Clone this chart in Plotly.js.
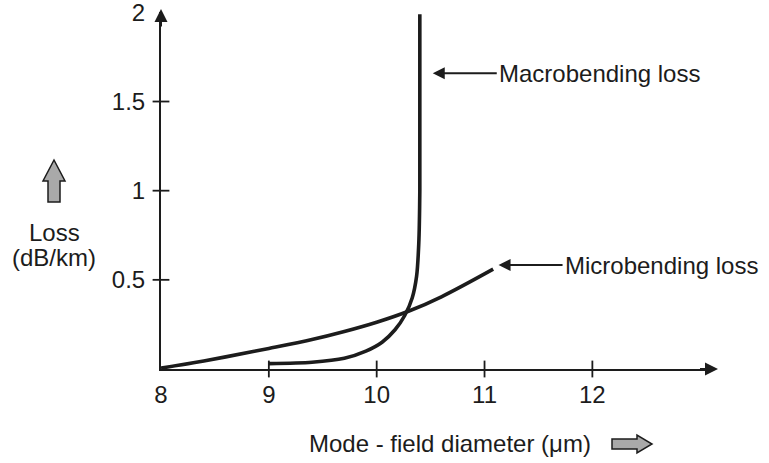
<!DOCTYPE html>
<html>
<head>
<meta charset="utf-8">
<script src="https://cdn.plot.ly/plotly-3.0.1.min.js"></script>
<style>html,body{margin:0;padding:0;background:#fff;}#chart{width:769px;height:463px;}</style>
</head>
<body>
<div id="chart"></div>
<script>
// Data
const microX = [8.0, 8.3, 8.6, 9.0, 9.4, 9.7, 10.0, 10.3, 10.6, 11.08];
const microY = [0.005, 0.035, 0.068, 0.115, 0.165, 0.21, 0.262, 0.325, 0.405, 0.56];
const macroX = [9.0, 9.4, 9.7, 9.9, 10.05, 10.17, 10.26, 10.33, 10.37, 10.39, 10.40, 10.40];
const macroY = [0.03, 0.038, 0.06, 0.1, 0.15, 0.22, 0.3, 0.4, 0.52, 0.7, 1.0, 1.99];
const xTickVals = [8, 9, 10, 11, 12];
const xTickMarks = [9, 10, 11, 12];
const yTickVals = [0.5, 1, 1.5, 2];
const yTickMarks = [0.5, 1, 1.5];
const xTitle = 'Mode - field diameter (\u03bcm)';
const yTitle = ['Loss', '(dB/km)'];
const macroLabel = 'Macrobending loss';
const microLabel = 'Microbending loss';

const ink = '#1c1c1c';
const fontFam = '"Liberation Sans", Arial, Helvetica, sans-serif';
const xr = [8, 13.1], yr = [0, 2.002];

const traces = [
  {x: microX, y: microY, type: 'scatter', mode: 'lines', line: {color: ink, width: 3.6, shape: 'spline', smoothing: 1}, cliponaxis: false, hoverinfo: 'skip'},
  {x: macroX, y: macroY, type: 'scatter', mode: 'lines', line: {color: ink, width: 3.6, shape: 'spline', smoothing: 0.8}, cliponaxis: false, hoverinfo: 'skip'},
  // crossing tick marks on the x axis
  {x: xTickMarks, y: xTickMarks.map(() => 0), type: 'scatter', mode: 'markers', cliponaxis: false, hoverinfo: 'skip',
    marker: {symbol: 'line-ns', size: 12, color: ink, line: {color: ink, width: 1.8}}},
  // crossing tick marks on the y axis
  {x: yTickMarks.map(() => xr[0]), y: yTickMarks, type: 'scatter', mode: 'markers', cliponaxis: false, hoverinfo: 'skip',
    marker: {symbol: 'line-ew', size: 12, color: ink, line: {color: ink, width: 1.8}}}
];

const annFont = {family: fontFam, size: 24, color: ink};
const layout = {
  width: 769, height: 463,
  margin: {l: 161, r: 58, t: 12, b: 94},
  paper_bgcolor: '#fff', plot_bgcolor: '#fff',
  showlegend: false,
  font: {family: fontFam, size: 24, color: ink},
  xaxis: {type: 'linear', range: xr, tickmode: 'array', tickvals: xTickVals, ticks: '', ticklabelstandoff: 3,
    ticklabeloverflow: 'allow',
    showline: true, linewidth: 2, linecolor: ink, showgrid: false, zeroline: false, tickfont: annFont, fixedrange: true},
  yaxis: {type: 'linear', range: yr, tickmode: 'array', tickvals: yTickVals, ticks: '', ticklabelstandoff: 9,
    ticklabeloverflow: 'allow',
    showline: true, linewidth: 2, linecolor: ink, showgrid: false, zeroline: false, tickfont: annFont, fixedrange: true},
  annotations: [
    // axis arrowheads
    {x: 0, y: 1, xref: 'paper', yref: 'paper', yshift: 3, ax: 0, ay: 20, text: ' ', font: {size: 2}, showarrow: true, arrowhead: 2, arrowsize: 1.3, arrowwidth: 2, arrowcolor: ink},
    {x: 1, y: 0, xref: 'paper', yref: 'paper', xshift: 7, ax: -20, ay: 0, text: ' ', font: {size: 2}, showarrow: true, arrowhead: 2, arrowsize: 1.3, arrowwidth: 2, arrowcolor: ink},
    // curve labels
    {x: 10.52, y: 1.658, xref: 'x', yref: 'y', ax: 64, ay: 0, xanchor: 'left', yanchor: 'middle', text: macroLabel, font: annFont,
      showarrow: true, arrowhead: 2, arrowsize: 1.2, arrowwidth: 2, arrowcolor: ink, standoff: 0},
    {x: 11.13, y: 0.583, xref: 'x', yref: 'y', ax: 64, ay: 0, xanchor: 'left', yanchor: 'middle', text: microLabel, font: annFont,
      showarrow: true, arrowhead: 2, arrowsize: 1.2, arrowwidth: 2, arrowcolor: ink, standoff: 0},
    // axis titles
    {x: 0, y: 0, xref: 'paper', yref: 'paper', xanchor: 'center', yanchor: 'middle', xshift: -107, yshift: 137, text: yTitle[0], showarrow: false, font: annFont},
    {x: 0, y: 0, xref: 'paper', yref: 'paper', xanchor: 'center', yanchor: 'middle', xshift: -107, yshift: 112, text: yTitle[1], showarrow: false, font: annFont},
    {x: 0, y: 0, xref: 'paper', yref: 'paper', xanchor: 'center', yanchor: 'middle', xshift: 289, yshift: -74, text: xTitle, showarrow: false, font: annFont}
  ],
  shapes: [
    // hatched-style up arrow beside the Loss label
    {type: 'path', xref: 'paper', yref: 'paper', xsizemode: 'pixel', ysizemode: 'pixel', xanchor: 0, yanchor: 0,
      path: 'M -107 209 L -96 188 L -101 188 L -101 167 L -113 167 L -113 188 L -118 188 Z',
      fillcolor: '#a9a9a9', line: {color: ink, width: 1.5}},
    // right arrow after the x title
    {type: 'path', xref: 'paper', yref: 'paper', xsizemode: 'pixel', ysizemode: 'pixel', xanchor: 0, yanchor: 0,
      path: 'M 451 -70 L 476 -70 L 476 -66 L 491 -75 L 476 -84 L 476 -80 L 451 -80 Z',
      fillcolor: '#a9a9a9', line: {color: ink, width: 1.5}}
  ]
};

Plotly.newPlot('chart', traces, layout, {staticPlot: true, displayModeBar: false});
</script>
</body>
</html>
